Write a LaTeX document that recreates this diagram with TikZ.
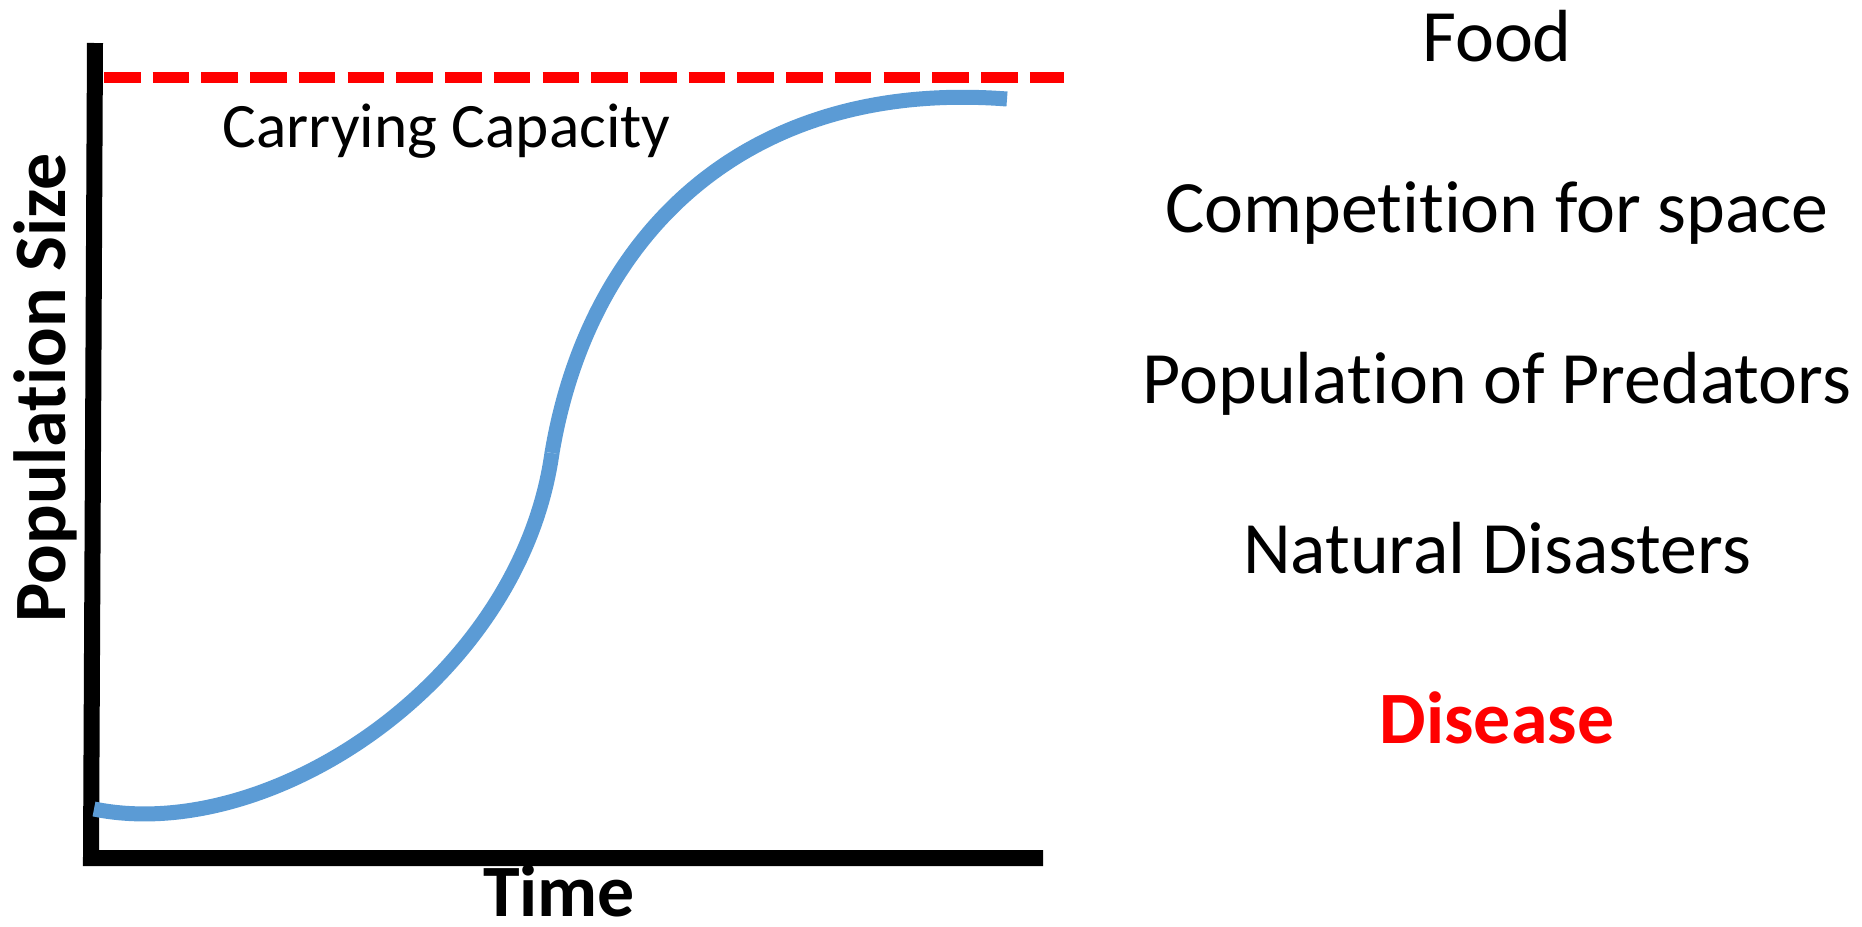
\documentclass[tikz,border=0pt]{standalone}
\usepackage{fontspec}
\setmainfont{Carlito}[Ligatures=NoCommon, RawFeature={-clig;-dlig}]
\definecolor{curveblue}{RGB}{91,155,213}
\definecolor{capred}{RGB}{255,0,0}

\begin{document}
\begin{tikzpicture}[x=0.01cm, y=-0.01cm,
		axisline/.style={line width=0.16cm, line join=miter},
		factor/.style={anchor=base, font=\fontsize{21}{25}\selectfont}]
		%%%%% START %%%%%
		
		\useasboundingbox (0,0) rectangle (1862,927);
		
		\coordinate (ytop) at (95,43);
		\coordinate (origin) at (91,858);
		\coordinate (xend) at (1043,858);
		\draw[axisline] (ytop) -- (origin) -- (xend);
		
		\coordinate (capleft) at (104,77.5);
		\coordinate (capright) at (1064,77.5);
		\draw[capred, line width=0.11cm, dash pattern=on 0.365cm off 0.122cm] (capleft) -- (capright);
		
		\coordinate (start) at (94,809);
		\coordinate (kink) at (552,453);
		\coordinate (stop) at (1007,99);
		\draw[curveblue, line width=0.15cm] (start) .. controls (270,845) and (520,680) .. (kink);
		\draw[curveblue, line width=0.15cm] (kink) .. controls (589,233) and (747,79) .. (stop);
		
		\node[anchor=base west, inner sep=0pt, font=\fontsize{18}{22}\selectfont] (capacity) at (222,147) {Carrying Capacity};
		\node[anchor=base, inner sep=0pt, font=\bfseries\fontsize{21}{25}\selectfont] (time) at (559,916) {Time};
		\node[anchor=base, rotate=90, font=\bfseries\fontsize{21}{25}\selectfont] (popsize) at (65,388) {Population Size};
		
		\node[factor] (food) at (1497,61) {Food};
		\node[factor] (space) at (1497,232) {Competition for space};
		\node[factor] (predators) at (1497,403) {Population of Predators};
		\node[factor] (disasters) at (1497,573) {Natural Disasters};
		\node[factor, capred, font=\bfseries\fontsize{21}{25}\selectfont] (disease) at (1497,743) {Disease};
		
		%%%%% END %%%%%
\end{tikzpicture}
\end{document}
